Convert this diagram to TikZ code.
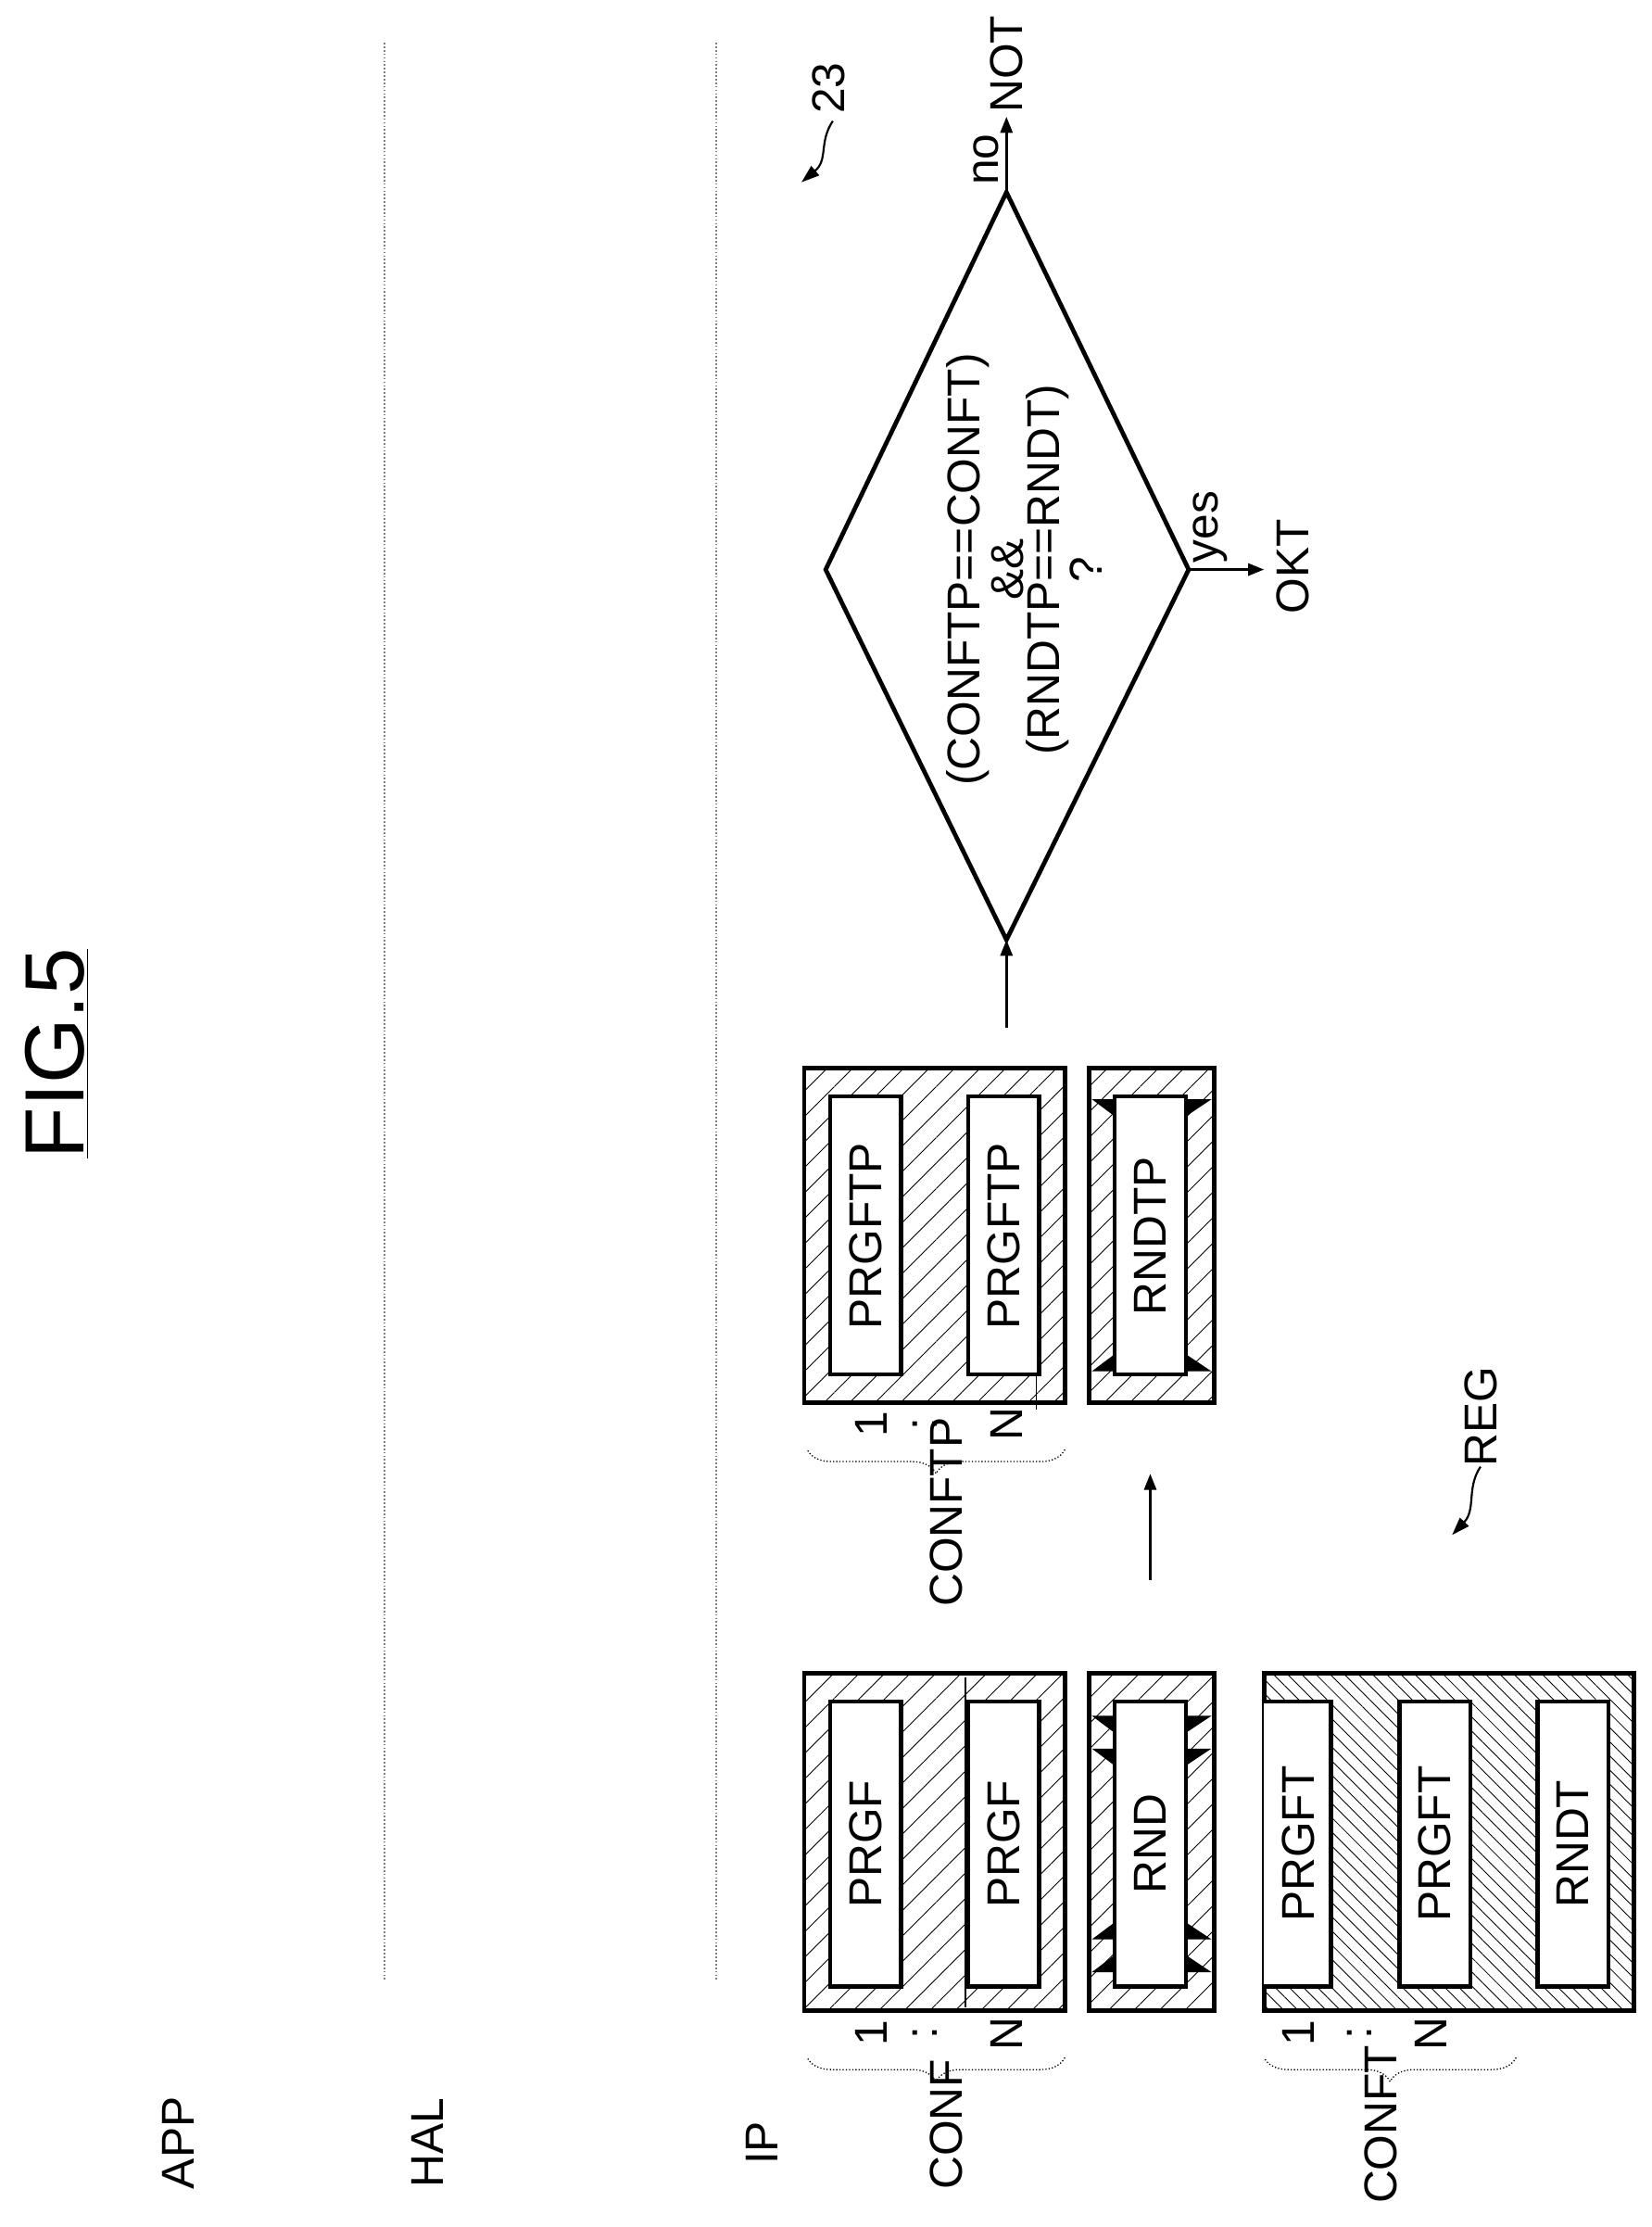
\documentclass[tikz,border=0pt]{standalone}
\usepackage{fontspec}
\setmainfont{Liberation Sans}
\usetikzlibrary{patterns.meta,decorations.pathreplacing,arrows.meta}
\begin{document}
\begin{tikzpicture}[x=0.025cm,y=-0.025cm,
  lbl/.style={rotate=90,font=\fontsize{23}{27}\selectfont,inner sep=0},
  box/.style={draw,line width=2.2pt},
  inb/.style={draw,line width=2pt,fill=white},
  hatA/.style={pattern={Lines[angle=45,distance=9pt,line width=0.4pt]}},
  hatB/.style={pattern={Lines[angle=-45,distance=5pt,line width=0.4pt]}},
  arr/.style={line width=1.4pt,-{Triangle[length=8pt,width=6pt]}},
  brc/.style={decorate,decoration={brace,amplitude=12pt},line width=0.6pt,densely dotted}]
\useasboundingbox (0,0) rectangle (1160,1564);
% title
\node[rotate=90,font=\fontsize{42}{46}\selectfont] (fig) at (40,740) {\underline{FIG.5}};
% layer labels
\node[lbl] (app) at (125,1505) {APP};
\node[lbl] (hal) at (300,1505) {HAL};
\node[lbl] (ip) at (535,1505) {IP};
\draw[densely dotted,line width=0.8pt,gray] (270,30) -- (270,1390);
\draw[densely dotted,line width=0.8pt,gray] (503,30) -- (503,1390);
% CONF
\draw[box,hatA] (565,1175) rectangle (748,1412);
\draw[line width=0.8pt] (678,1178) -- (678,1410);
\draw[inb] (583,1195) rectangle (633,1395);
\node[lbl] (pa) at (608,1295) {PRGF};
\draw[inb] (680,1195) rectangle (730,1395);
\node[lbl] (pb) at (705,1295) {PRGF};
\node[lbl] (c1) at (612,1428) {1};
\node[lbl] (cd) at (650,1428) {:};
\node[lbl] (cn) at (707,1428) {N};
\draw[brc] (748,1445) -- (567,1445);
\node[lbl] (conflbl) at (665,1492) {CONF};
% RND
\draw[box,hatA] (765,1175) rectangle (853,1412);
\draw[inb] (783,1195) rectangle (833,1395);
\node[lbl] (rnd) at (808,1295) {RND};
\foreach \yy/\s in {1205/1,1228/1,1362/-1,1385/-1}{
  \fill (767,\yy) -- (783,\yy) -- (783,\yy+\s*12) -- cycle;
  \fill (851,\yy) -- (833,\yy) -- (833,\yy+\s*12) -- cycle;}
% CONFT
\draw[box,hatB] (888,1175) rectangle (1148,1412);
\fill[white] (888,1195) rectangle (935,1395);
\draw[line width=2pt] (888,1195) -- (935,1195) -- (935,1395) -- (888,1395);
\node[lbl] (ta) at (912,1295) {PRGFT};
\draw[inb] (983,1195) rectangle (1033,1395);
\node[lbl] (tb) at (1008,1295) {PRGFT};
\draw[inb] (1080,1195) rectangle (1130,1395);
\node[lbl] (tc) at (1105,1295) {RNDT};
\node[lbl] (t1) at (912,1428) {1};
\node[lbl] (td) at (955,1428) {:};
\node[lbl] (tn) at (1005,1428) {N};
\draw[brc] (1065,1445) -- (888,1445);
\node[lbl] (conftlbl) at (970,1492) {CONFT};
% arrow
\coordinate (a1s) at (808,1110);
\coordinate (a1e) at (808,1035);
\draw[arr] (a1s) -- (a1e);
% CONFTP
\draw[box,hatA] (565,750) rectangle (748,985);
\draw[inb] (583,770) rectangle (633,965);
\node[lbl] (qa) at (608,868) {PRGFTP};
\draw[inb] (680,770) rectangle (730,965);
\node[lbl] (qb) at (705,868) {PRGFTP};
\draw[line width=0.8pt] (728,965) -- (728,990);
\node[lbl] (q1) at (612,1000) {1};
\node[lbl] (qd) at (650,1000) {:};
\node[lbl] (qn) at (707,1000) {N};
\draw[brc] (748,1018) -- (567,1018);
\node[lbl] (conftplbl) at (665,1062) {CONFTP};
\draw[box,hatA] (765,750) rectangle (853,985);
\draw[inb] (783,770) rectangle (833,965);
\node[lbl] (rndtp) at (808,868) {RNDTP};
\foreach \yy/\s in {772/1,963/-1}{
  \fill (767,\yy) -- (783,\yy) -- (783,\yy+\s*12) -- cycle;
  \fill (851,\yy) -- (833,\yy) -- (833,\yy+\s*12) -- cycle;}
% diamond
\coordinate (dB) at (707,660);
\coordinate (dT) at (707,135);
\coordinate (dL) at (580,400);
\coordinate (dR) at (835,400);
\draw[line width=2.2pt,line join=miter] (dB) -- (dL) -- (dT) -- (dR) -- cycle;
\node[lbl] (e1) at (680,400) {(CONFTP==CONFT)};
\node[lbl] (e2) at (708,400) {\&\&};
\node[lbl] (e3) at (736,400) {(RNDTP==RNDT)};
\node[lbl] (e4) at (763,400) {?};
\coordinate (a2s) at (707,722);
\draw[arr] (a2s) -- (dB);
\coordinate (noE) at (707,82);
\draw[arr] (dT) -- (noE);
\node[lbl] (no) at (693,112) {no};
\node[lbl] (nt) at (707,45) {NOT};
\coordinate (yesE) at (888,400);
\draw[arr] (dR) -- (yesE);
\node[lbl] (yes) at (850,370) {yes};
\node[lbl] (okt) at (908,398) {OKT};
% refs
\node[lbl] (r23) at (582,62) {23};
\coordinate (r23e) at (563,128);
\draw[line width=1pt,-{Triangle[length=9pt,width=6pt]}] (585,85) .. controls (575,100) and (582,112) .. (r23e);
\node[lbl] (reg) at (1040,995) {REG};
\coordinate (rege) at (1020,1078);
\draw[line width=1pt,-{Triangle[length=9pt,width=6pt]}] (1040,1030) .. controls (1030,1045) and (1037,1060) .. (rege);
\end{tikzpicture}
\end{document}
